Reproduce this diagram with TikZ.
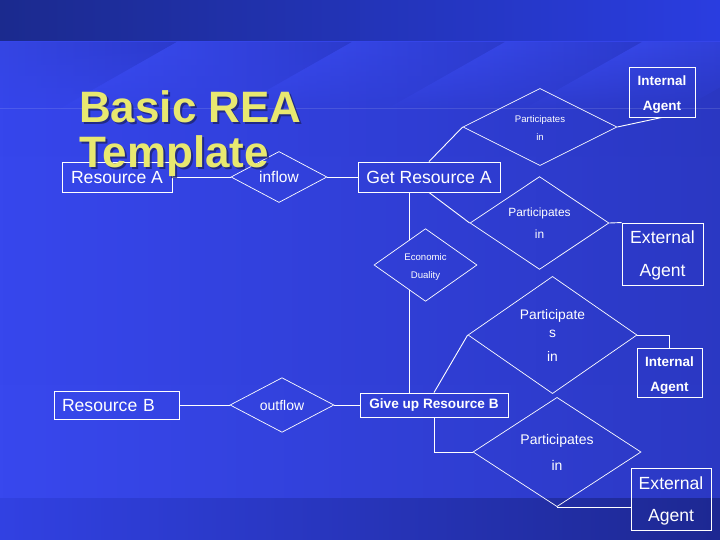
\documentclass[tikz,border=0pt]{standalone}
\usepackage{fontspec}
\setmainfont{Liberation Sans}
\usetikzlibrary{positioning,calc,shapes.geometric,fadings}
\definecolor{bandleft}{HTML}{1B2A8E}
\definecolor{bandright}{HTML}{2A3DE0}
\definecolor{slidetop}{HTML}{3646EC}
\definecolor{slidemid}{HTML}{2D3BCA}
\definecolor{slidebot}{HTML}{3848EE}
\definecolor{slidedark}{HTML}{1C2690}
\definecolor{streaklight}{HTML}{3D4FF8}
\definecolor{streakdark}{HTML}{2B3ACC}
\definecolor{footleft}{HTML}{3141E2}
\definecolor{footright}{HTML}{1D2892}
\definecolor{titleyellow}{HTML}{E8E870}
\definecolor{titleshade}{HTML}{1A2060}
\tikzset{block/.style={draw=white, line width=0.9pt, text=white, inner sep=0pt, align=center},
    rel/.style={diamond, draw=white, line width=0.7pt, text=white, inner sep=0pt, align=center},
    line/.style={draw=white, line width=0.9pt},
    title/.style={anchor=base west, inner sep=0pt, align=left, font=\fontsize{44}{45}\selectfont\bfseries}}

\begin{document}
\begin{tikzpicture}[x=1pt,y=-1pt]
    \useasboundingbox (0,0) rectangle (720,540);
    \shade[left color=bandleft, right color=bandright] (0,0) rectangle (720,42);
    \shade[top color=slidetop, middle color=slidemid, bottom color=slidebot] (0,42) rectangle (720,498);
    \fill[slidedark, opacity=0.45, path fading=west] (0,42) rectangle (720,498);
    \foreach \xa/\xb in {-40/177,177/352,352/505,505/642,642/800}
        \shade[left color=streaklight, right color=streakdark, path fading=south] (\xa,42) -- (\xb,42) -- (\xb-120,110) -- (\xa-120,110) -- cycle;
    \draw[white, opacity=0.12] (0,108) -- (720,108);
    \shade[left color=footleft, right color=footright] (0,498) rectangle (720,540);

    \node[block, minimum width=110pt, minimum height=30pt, text height=12.6pt, font=\fontsize{17.6}{20}\selectfont] (resA) at (117,177) {Resource A};
    \node[rel, minimum width=96pt, minimum height=47pt, font=\fontsize{15.5}{18}\selectfont] (inflow) at (279,177) {inflow};
    \node[block, minimum width=142pt, minimum height=30pt, text height=12.6pt, font=\fontsize{17.6}{20}\selectfont] (getA) at (429,177) {Get Resource A};
    \node[rel, minimum width=154pt, minimum height=68pt, font=\fontsize{9.6}{18}\selectfont] (partA) at (540,127) {\rule{0pt}{9pt}Participates\\in};
    \node[block, minimum width=66pt, minimum height=50pt, font=\fontsize{13.5}{25}\selectfont\bfseries] (intA) at (662,92) {\rule{0pt}{15.5pt}Internal\\Agent};
    \node[rel, minimum width=139pt, minimum height=80pt, font=\fontsize{11.9}{22}\selectfont] (partB) at (539.5,223) {Participates\\in};
    \node[block, minimum width=81pt, minimum height=62pt, font=\fontsize{17.6}{33}\selectfont] (extA) at (662.5,254) {\rule{0pt}{16.6pt}External\\Agent};
    \node[rel, minimum width=103pt, minimum height=66pt, font=\fontsize{9.6}{18}\selectfont] (dual) at (425.5,265) {\rule{0pt}{10.5pt}Economic\\Duality};

    \node[block, minimum width=125pt, minimum height=28pt, text width=109pt, align=left, inner xsep=8pt, text height=12.6pt, font=\fontsize{17.6}{20}\selectfont] (resB) at (116.5,405) {Resource B};
    \node[rel, minimum width=104pt, minimum height=42pt, font=\fontsize{14}{16}\selectfont] (outflow) at (282,405) {outflow};
    \node[block, minimum width=148pt, minimum height=24pt, text height=9.7pt, font=\fontsize{13.6}{16}\selectfont\bfseries] (giveB) at (434,405) {Give up Resource B};
    \node[rel, minimum width=169pt, minimum height=92pt, font=\fontsize{13.8}{18}\selectfont] (partC) at (552.5,335) {Participate\\s\\[6pt]in};
    \node[block, minimum width=65pt, minimum height=49pt, font=\fontsize{13.5}{25}\selectfont\bfseries] (intB) at (669.5,372.5) {\rule{0pt}{15.5pt}Internal\\Agent};
    \node[rel, minimum width=168pt, minimum height=92pt, font=\fontsize{14}{26}\selectfont] (partD) at (557,452) {Participates\\in};
    \node[block, minimum width=80pt, minimum height=62pt, font=\fontsize{17.6}{32}\selectfont] (extB) at (671,499) {\rule{0pt}{16.6pt}External\\Agent};

    \coordinate (dualin)  at ($(dual.north)!0.3137!(dual.west)$);
    \coordinate (dualout) at ($(dual.south)!0.3137!(dual.west)$);

    \draw[line]               (resA.east)-- (inflow.west);
    \draw[line]               (inflow.east)-- (getA.west);
    \draw[line]               (getA.north)-- (partA.west);
    \draw[line]               (partA.east)-- (intA.south);
    \draw[line]               (getA.south)-- (partB.west);
    \draw[line]               (partB.east)-- (extA.north west);
    \draw[line]               (dualin |- getA.south)-- (dualin);
    \draw[line]               (dualout)-- (dualout |- giveB.north);
    \draw[line]               (resB.east)-- (outflow.west);
    \draw[line]               (outflow.east)-- (giveB.west);
    \draw[line]               (giveB.north)-- (partC.west);
    \draw[line]               (partC.east) -| (intB.north);
    \draw[line]               (giveB.south) |- (partD.west);
    \draw[line]               (partD.south)-- (partD.south -| extB.west);

    \node[title, text=titleshade, opacity=0.7] (titleshadow) at (81,170) {Basic REA\\Template};
    \node[title, text=titleyellow]             (title)       at (79,168) {Basic REA\\Template};
\end{tikzpicture}
\end{document}
